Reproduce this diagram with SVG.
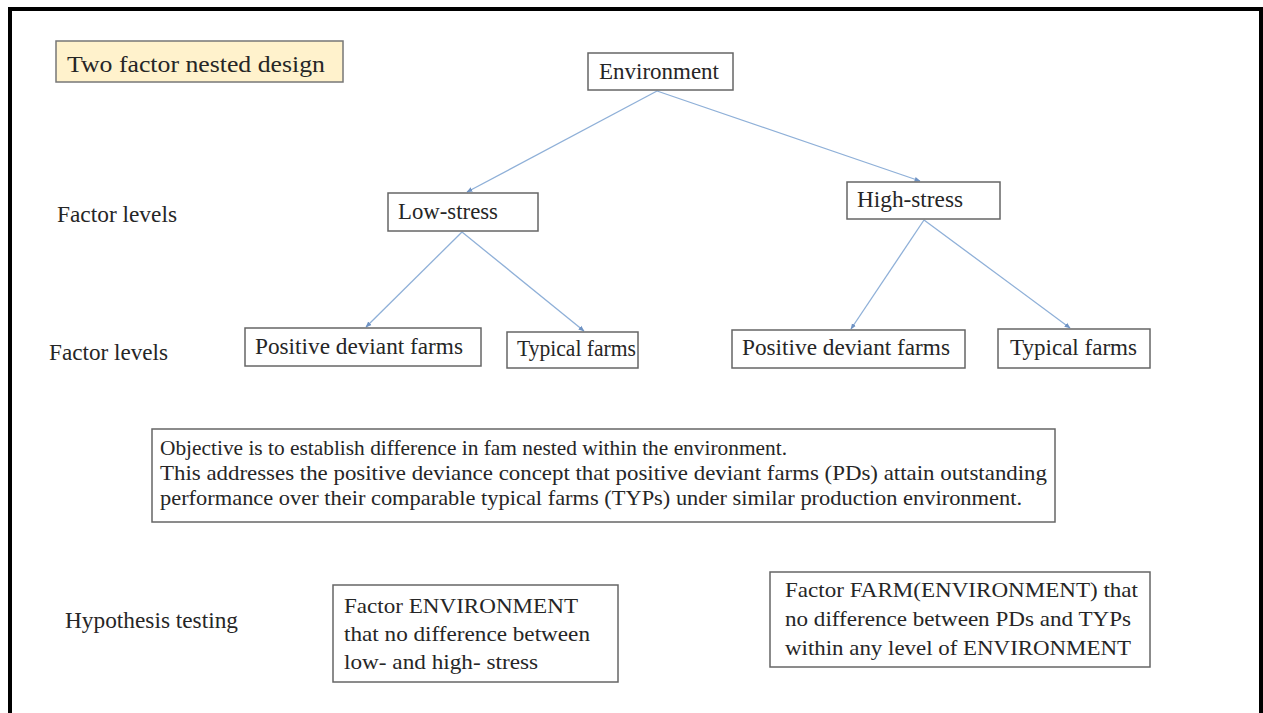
<svg xmlns="http://www.w3.org/2000/svg" width="1263" height="713" viewBox="0 0 1263 713">
<style>
text{font-family:'Liberation Serif','DejaVu Serif',serif;fill:#262626;font-size:23px}
.box{fill:#fff;stroke:#666;stroke-width:1.5}
.s{font-size:22px}
.c{stroke:#8fb0d8;stroke-width:1.3;fill:none;marker-end:url(#ah)}
</style>
<defs>
<marker id="ah" viewBox="0 0 10 10" refX="9" refY="5" markerWidth="6" markerHeight="6" orient="auto" markerUnits="userSpaceOnUse">
<path d="M0,1 L10,5 L0,9 z" fill="#6f93c4"/>
</marker>
</defs>
<rect x="0" y="0" width="1263" height="713" fill="#fff"/>
<path d="M10,720 V9 H1261 V720" fill="none" stroke="#000" stroke-width="4"/>
<g id="title"><rect x="56" y="41" width="287" height="41" fill="#fff2cc" stroke="#777" stroke-width="1.5"/><text x="67" y="72" font-size="27" textLength="258" lengthAdjust="spacingAndGlyphs">Two factor nested design</text></g>
<g id="labels">
<text x="57" y="222" textLength="120" lengthAdjust="spacingAndGlyphs">Factor levels</text>
<text x="49" y="360" textLength="119" lengthAdjust="spacingAndGlyphs">Factor levels</text>
<text x="65" y="628" textLength="173" lengthAdjust="spacingAndGlyphs">Hypothesis testing</text>
</g>
<g id="connectors">
<line class="c" x1="657" y1="91" x2="467" y2="192"/>
<line class="c" x1="657" y1="91" x2="920" y2="181"/>
<line class="c" x1="462" y1="232" x2="366" y2="327"/>
<line class="c" x1="462" y1="232" x2="584" y2="331"/>
<line class="c" x1="924" y1="220" x2="851" y2="329"/>
<line class="c" x1="924" y1="220" x2="1070" y2="328"/>
</g>
<g id="environment"><rect class="box" x="588" y="53" width="145" height="37"/><text x="599" y="79" textLength="120" lengthAdjust="spacingAndGlyphs">Environment</text></g>
<g id="low"><rect class="box" x="388" y="193" width="150" height="38"/><text x="398" y="219" textLength="100" lengthAdjust="spacingAndGlyphs">Low-stress</text></g>
<g id="high"><rect class="box" x="847" y="182" width="153" height="37"/><text x="857" y="207" textLength="106" lengthAdjust="spacingAndGlyphs">High-stress</text></g>
<g id="pd-low"><rect class="box" x="245" y="328" width="236" height="38"/><text x="255" y="354" textLength="208" lengthAdjust="spacingAndGlyphs">Positive deviant farms</text></g>
<g id="typ-low"><rect class="box" x="507" y="332" width="131" height="36"/><text x="517" y="356" textLength="119" lengthAdjust="spacingAndGlyphs">Typical farms</text></g>
<g id="pd-high"><rect class="box" x="732" y="330" width="233" height="38"/><text x="742" y="355" textLength="208" lengthAdjust="spacingAndGlyphs">Positive deviant farms</text></g>
<g id="typ-high"><rect class="box" x="998" y="329" width="152" height="39"/><text x="1010" y="355" textLength="127" lengthAdjust="spacingAndGlyphs">Typical farms</text></g>
<g id="objective"><rect class="box" x="152" y="429" width="903" height="93"/>
<text class="s" x="160" y="455" textLength="627" lengthAdjust="spacingAndGlyphs">Objective is to establish difference in fam nested within the environment.</text>
<text class="s" x="160" y="480" textLength="887" lengthAdjust="spacingAndGlyphs">This addresses the positive deviance concept that positive deviant farms (PDs) attain outstanding</text>
<text class="s" x="160" y="505" textLength="862" lengthAdjust="spacingAndGlyphs">performance over their comparable typical farms (TYPs) under similar production environment.</text>
</g>
<g id="hyp-env"><rect class="box" x="333" y="585" width="285" height="97"/>
<text class="s" x="344" y="613" textLength="234" lengthAdjust="spacingAndGlyphs">Factor ENVIRONMENT</text>
<text class="s" x="344" y="641" textLength="246" lengthAdjust="spacingAndGlyphs">that no difference between</text>
<text class="s" x="344" y="669" textLength="194" lengthAdjust="spacingAndGlyphs">low- and high- stress</text>
</g>
<g id="hyp-farm"><rect class="box" x="770" y="572" width="380" height="95"/>
<text class="s" x="785" y="597" textLength="353" lengthAdjust="spacingAndGlyphs">Factor FARM(ENVIRONMENT) that</text>
<text class="s" x="785" y="626" textLength="346" lengthAdjust="spacingAndGlyphs">no difference between PDs and TYPs</text>
<text class="s" x="785" y="655" textLength="346" lengthAdjust="spacingAndGlyphs">within any level of ENVIRONMENT</text>
</g>
</svg>
